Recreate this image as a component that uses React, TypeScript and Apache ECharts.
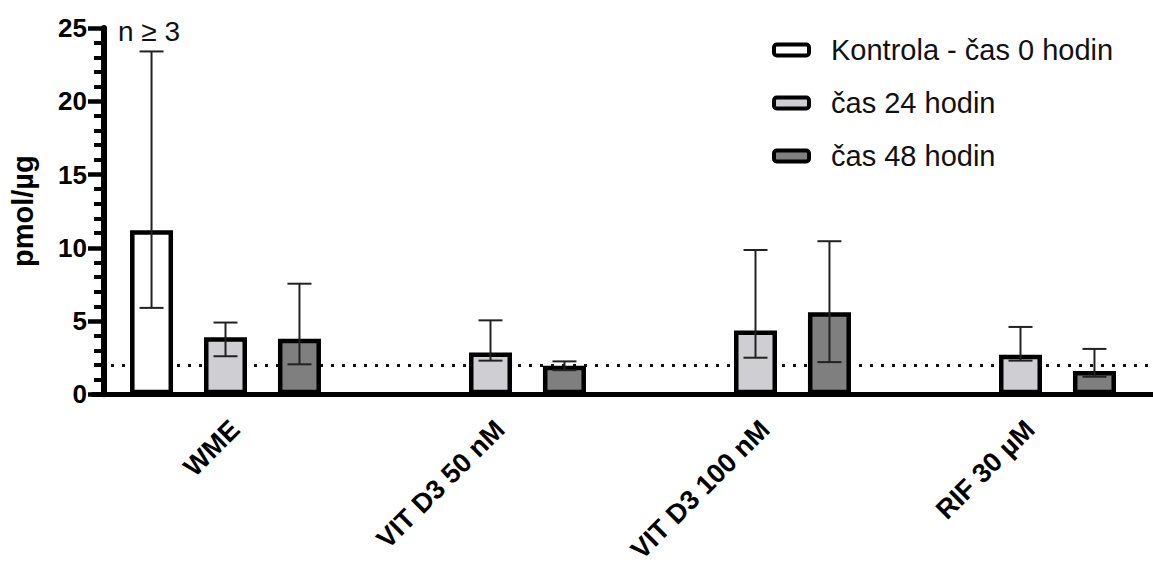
import React, { useEffect, useRef } from "react";
import * as echarts from "echarts";

const categories = ["WME", "VIT D3 50 nM", "VIT D3 100 nM", "RIF 30 \u00b5M"];
const seriesNames = ["Kontrola - \u010das 0 hodin", "\u010das 24 hodin", "\u010das 48 hodin"];

const controlMean = [11.2, null, null, null];
const controlLow = [5.9, null, null, null];
const controlHigh = [23.4, null, null, null];

const h24Mean = [3.9, 2.85, 4.35, 2.7];
const h24Low = [2.6, 2.3, 2.5, 2.3];
const h24High = [4.9, 5.05, 9.85, 4.6];

const h48Mean = [3.8, 1.95, 5.6, 1.6];
const h48Low = [2.05, 1.65, 2.2, 1.2];
const h48High = [7.55, 2.25, 10.45, 3.1];

const thresholdValue = 2;
const yTicks = [0, 5, 10, 15, 20, 25];
const annotation = "n \u2265 3";
const yName = "pmol/\u00b5g";

const FONT = "'Liberation Sans', Arial, Helvetica, sans-serif";
const BAR_W = 43;
const BAR_GAP = 0.72;
const fills = ["#ffffff", "#cfcfd3", "#7f7f7f"];

export default function App() {
  const ref = useRef<HTMLDivElement>(null);

  useEffect(() => {
    if (!ref.current) return;
    const chart = echarts.init(ref.current, undefined, { renderer: "svg" });

    const means = [controlMean, h24Mean, h48Mean];
    const lows = [controlLow, h24Low, h48Low];
    const highs = [controlHigh, h24High, h48High];

    const errData: any[] = [];
    for (let s = 0; s < 3; s++) {
      for (let c = 0; c < categories.length; c++) {
        if (means[s][c] == null) continue;
        errData.push([c, s, lows[s][c], highs[s][c]]);
      }
    }

    const barSeries = seriesNames.map((name, i) => ({
      name,
      type: "bar",
      data: means[i],
      barWidth: BAR_W,
      barGap: BAR_GAP * 100 + "%",
      itemStyle: { color: fills[i], borderColor: "#000", borderWidth: 4.5 },
      z: 2,
      ...(i === 0
        ? {
            markLine: {
              silent: true,
              symbol: "none",
              label: { show: false },
              lineStyle: { color: "#111", type: [3, 8], width: 3, dashOffset: 4 },
              data: [{ yAxis: thresholdValue }],
              z: 1,
            },
          }
        : {}),
    }));

    const option: any = {
      animation: false,
      backgroundColor: "#ffffff",
      grid: { left: 90, top: 28, width: 1084, height: 367, containLabel: false },
      legend: {
        orient: "vertical",
        left: 767,
        top: 30,
        itemWidth: 35,
        itemHeight: 11,
        itemGap: 23,
        data: seriesNames,
        itemStyle: { borderColor: "#000", borderWidth: 4 },
        textStyle: {
          fontFamily: FONT,
          fontSize: 29,
          color: "#111",
          lineHeight: 30,
          padding: [0, 0, 0, 17],
        },
      },
      xAxis: {
        type: "category",
        data: categories,
        axisLine: { lineStyle: { color: "#000", width: 5 } },
        axisTick: { alignWithLabel: true, length: 13, lineStyle: { color: "#000", width: 4.5 } },
        axisLabel: {
          rotate: 45,
          interval: 0,
          margin: 21,
          verticalAlign: "top",
          fontFamily: FONT,
          fontWeight: "bold",
          fontSize: 27,
          color: "#000",
        },
        splitLine: { show: false },
        z: 3,
      },
      yAxis: {
        type: "value",
        min: yTicks[0],
        max: yTicks[yTicks.length - 1],
        interval: 5,
        offset: -11,
        z: 4,
        name: yName,
        nameLocation: "middle",
        nameGap: 67,
        nameTextStyle: { fontFamily: FONT, fontWeight: "bold", fontSize: 29, color: "#000" },
        axisLine: { show: true, onZero: false, lineStyle: { color: "#000", width: 6 } },
        axisTick: { show: true, length: 16, lineStyle: { color: "#000", width: 4.5 } },
        minorTick: { show: true, splitNumber: 5, length: 10, lineStyle: { color: "#000", width: 4 } },
        axisLabel: {
          margin: 17,
          fontFamily: FONT,
          fontWeight: "bold",
          fontSize: 26,
          color: "#000",
        },
        splitLine: { show: false },
      },
      series: [
        ...barSeries,
        {
          type: "custom",
          name: "err",
          z: 5,
          data: errData,
          encode: { x: 0, y: [2, 3] },
          renderItem: (params: any, api: any) => {
            const c = api.value(0);
            const s = api.value(1);
            const lo = api.coord([c, api.value(2)]);
            const hi = api.coord([c, api.value(3)]);
            const spacing = BAR_W * (1 + BAR_GAP);
            const x = lo[0] + (s - 1) * spacing;
            const cap = 12;
            const st = { stroke: "#222", lineWidth: 2 };
            return {
              type: "group",
              children: [
                { type: "line", shape: { x1: x, y1: lo[1], x2: x, y2: hi[1] }, style: st },
                { type: "line", shape: { x1: x - cap, y1: hi[1], x2: x + cap, y2: hi[1] }, style: st },
                { type: "line", shape: { x1: x - cap, y1: lo[1], x2: x + cap, y2: lo[1] }, style: st },
              ],
            };
          },
        },
      ],
      graphic: [
        {
          type: "text",
          left: 118,
          top: 17,
          style: { text: annotation, fontFamily: FONT, fontSize: 28, fill: "#111" },
        },
      ],
    };

    chart.setOption(option);
    return () => chart.dispose();
  }, []);

  return (
    <div
      ref={ref}
      style={{ position: "absolute", left: 0, top: 0, width: 1153, height: 566 }}
    />
  );
}
